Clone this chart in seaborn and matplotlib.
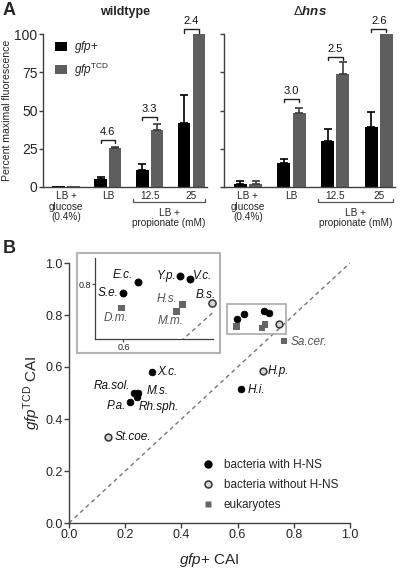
import numpy as np
import pandas as pd
import matplotlib
matplotlib.use("Agg")
import matplotlib.pyplot as plt
import seaborn as sns
from matplotlib.patches import Rectangle, Patch
from matplotlib.lines import Line2D

sns.set_theme(style="ticks")
plt.rcParams["font.family"] = ["Liberation Sans", "DejaVu Sans"]
plt.rcParams.update({
    "mathtext.fontset": "custom",
    "mathtext.rm": "Liberation Sans",
    "mathtext.it": "Liberation Sans:italic",
    "mathtext.bf": "Liberation Sans:bold",
    "mathtext.bfit": "Liberation Sans:italic:bold",
})

# ---------------- Panel A data ----------------
conditions = ["glucose", "LB", "12.5", "25"]
tick_labels = ["LB +\nglucose\n(0.4%)", "LB", "12.5", "25"]
constructs = ["gfp+", "gfpTCD"]

wt_gfp = [0.4, 5, 11, 42]
wt_gfp_err = [0, 1.5, 4, 18]
wt_tcd = [0.4, 25.5, 37.5, 100]
wt_tcd_err = [0, 0.7, 3.5, 0]

hns_gfp = [2, 16, 30, 39]
hns_gfp_err = [2, 2.5, 8, 10]
hns_tcd = [2, 48.5, 74, 100]
hns_tcd_err = [2, 3, 7.5, 0]

wt_ratio = ["4.6", "3.3", "2.4"]
wt_ratio_y = [31, 46, 103]
hns_ratio = ["3.0", "2.5", "2.6"]
hns_ratio_y = [57.5, 85, 103.5]

# ---------------- Panel B data ----------------
species = ["E.c.", "S.e.", "Y.p.", "V.c.", "B.s.", "D.m.", "H.s.", "M.m.",
           "X.c.", "Ra.sol.", "M.s.", "Rh.sph.", "P.a.", "St.coe.", "H.i.", "H.p.", "Sa.cer."]
gfp_cai = [0.624, 0.599, 0.694, 0.710, 0.747, 0.597, 0.697, 0.687,
           0.295, 0.231, 0.246, 0.242, 0.217, 0.139, 0.612, 0.690, 0.765]
tcd_cai = [0.804, 0.783, 0.815, 0.809, 0.765, 0.756, 0.763, 0.750,
           0.581, 0.500, 0.500, 0.485, 0.465, 0.331, 0.515, 0.585, 0.700]
group = ["with", "with", "with", "with", "without", "euk", "euk", "euk",
         "with", "with", "with", "with", "with", "without", "with", "without", "euk"]
inset_species = ["E.c.", "S.e.", "Y.p.", "V.c.", "B.s.", "D.m.", "H.s.", "M.m."]
group_labels = {"with": "bacteria with H-NS", "without": "bacteria without H-NS", "euk": "eukaryotes"}

BLACK = "#000000"
GREY = "#5e5e5e"
SPINE = "#404040"

fig = plt.figure(figsize=(4, 5.7), dpi=100)
W, H = 400, 570


def fig_rect(x0, x1, ytop, ybot):
    return [x0 / W, 1 - ybot / H, (x1 - x0) / W, (ybot - ytop) / H]


axL = fig.add_axes(fig_rect(43, 207, 34, 187))
axR = fig.add_axes(fig_rect(224, 395, 34, 187))


def bar_panel(ax, gfp, gfp_err, tcd, tcd_err, ratios, ratio_y, show_labels):
    df = pd.DataFrame({
        "condition": conditions * 2,
        "value": gfp + tcd,
        "construct": [constructs[0]] * 4 + [constructs[1]] * 4,
    })
    sns.barplot(data=df, x="condition", y="value", hue="construct",
                order=conditions, hue_order=constructs,
                palette={constructs[0]: BLACK, constructs[1]: GREY},
                width=0.7, gap=0.15, errorbar=None, saturation=1,
                legend=False, ax=ax, linewidth=0)
    centers = []
    for cont, vals, errs, ec in zip(ax.containers, [gfp, tcd], [gfp_err, tcd_err], [BLACK, "#3c3c3c"]):
        xs = [b.get_x() + b.get_width() / 2 for b in cont]
        centers.append(xs)
        for x, v, e in zip(xs, vals, errs):
            if e > 0:
                ax.errorbar([x], [v], yerr=[[0], [e]], fmt="none", ecolor=ec,
                            elinewidth=1.2, capsize=3, capthick=1.2, clip_on=False)
    # ratio brackets
    for i, (txt, yb) in enumerate(zip(ratios, ratio_y)):
        x0 = centers[0][i + 1]
        x1 = centers[1][i + 1]
        ax.plot([x0, x0, x1, x1], [yb - 2.2, yb, yb, yb - 2.2], color="#222222",
                lw=1.0, clip_on=False)
        ax.text((x0 + x1) / 2, yb + 2.0, txt, ha="center", va="bottom",
                fontsize=8, color="#111111")
    ax.set_xlim(-0.55, 3.37)
    ax.set_ylim(0, 100)
    ax.set_yticks([0, 25, 50, 75, 100])
    ax.set_xticks(range(4))
    ax.set_xticklabels(tick_labels, fontsize=7.2, linespacing=1.05)
    ax.tick_params(axis="x", length=0, pad=3)
    ax.tick_params(axis="y", length=3, width=1, color=SPINE, labelsize=10, pad=1)
    if not show_labels:
        ax.set_yticklabels([])
    ax.set_xlabel("")
    ax.set_ylabel("")
    sns.despine(ax=ax)
    for s in ["left", "bottom"]:
        ax.spines[s].set_color(SPINE)
        ax.spines[s].set_linewidth(1.0)
    # propionate bracket
    yb = -9.8
    ax.plot([1.6, 1.6, 3.33, 3.33], [-7.8, yb, yb, -7.8], color="#555555", lw=0.9, clip_on=False)
    ax.text((1.6 + 3.33) / 2, -13.5, "LB +\npropionate (mM)", ha="center", va="top",
            fontsize=7.2, linespacing=1.05)


bar_panel(axL, wt_gfp, wt_gfp_err, wt_tcd, wt_tcd_err, wt_ratio, wt_ratio_y, True)
bar_panel(axR, hns_gfp, hns_gfp_err, hns_tcd, hns_tcd_err, hns_ratio, hns_ratio_y, False)

axL.set_ylabel("Percent maximal fluorescence", fontsize=7.6, labelpad=2)
axL.set_title("wildtype", fontsize=9, fontweight="bold", pad=14)
axR.set_title(r"$\Delta\mathbfit{hns}$", fontsize=9.5, pad=14)

leg = axL.legend(handles=[Patch(facecolor=BLACK, edgecolor="none"), Patch(facecolor=GREY, edgecolor="none")],
                 labels=[r"$\mathit{gfp}$+", r"$\mathit{gfp}^{\mathrm{TCD}}$"],
                 loc="upper left", bbox_to_anchor=(0.075, 0.965), frameon=False,
                 fontsize=8.5, handlelength=1.0, handleheight=0.8, handletextpad=0.6,
                 borderaxespad=0, borderpad=0, labelspacing=0.45)

fig.text(3 / W, 1 - 2 / H, "A", fontsize=13, fontweight="bold", va="top", ha="left")
fig.text(3 / W, 1 - 240 / H, "B", fontsize=13, fontweight="bold", va="top", ha="left")

# ---------------- Panel B ----------------
dfB = pd.DataFrame({"species": species, "x": gfp_cai, "y": tcd_cai, "group": group})
styles = {
    "with": dict(marker="o", color=BLACK, edgecolor=BLACK, s=24, linewidth=0.5),
    "without": dict(marker="o", color="#d4d4d4", edgecolor="#333333", s=24, linewidth=1.1),
    "euk": dict(marker="s", color="#666666", edgecolor="none", s=22, linewidth=0),
}

axB = fig.add_axes(fig_rect(69, 350, 263, 523))
axB.plot([0, 1], [0, 1], ls=(0, (3, 2.5)), color="#777777", lw=1.0, zorder=1)
for g in ["with", "without", "euk"]:
    sub = dfB[dfB.group == g]
    sns.scatterplot(data=sub, x="x", y="y", ax=axB, zorder=3, legend=False, **styles[g])

main_label_offsets = {
    "X.c.": (4, 0, "left"), "Ra.sol.": (-3, 5, "right"), "M.s.": (6, 1.5, "left"),
    "Rh.sph.": (1, -7.5, "left"), "P.a.": (-3, -3, "right"), "St.coe.": (4.5, 0, "left"),
    "H.i.": (4.5, -1, "left"), "H.p.": (3.5, 0, "left"), "Sa.cer.": (5, -0.5, "left"),
}
for sp, x, y, g in zip(species, gfp_cai, tcd_cai, group):
    if sp in main_label_offsets:
        dx, dy, ha = main_label_offsets[sp]
        axB.annotate(sp, (x, y), xytext=(dx, dy), textcoords="offset points", ha=ha,
                     va="center", fontsize=8.5, style="italic",
                     color="#555555" if g == "euk" else "#111111")

# small box marking the zoomed region
axB.add_patch(Rectangle((0.562, 0.727), 0.772 - 0.562, 0.842 - 0.727, fill=False,
                        edgecolor="#aaaaaa", lw=1.2, zorder=2))

axB.set_xlim(0, 1)
axB.set_ylim(0, 1)
axB.set_xticks(np.arange(0, 1.01, 0.2))
axB.set_yticks(np.arange(0, 1.01, 0.2))
axB.xaxis.set_major_formatter(matplotlib.ticker.FormatStrFormatter("%.1f"))
axB.yaxis.set_major_formatter(matplotlib.ticker.FormatStrFormatter("%.1f"))
axB.tick_params(length=3.5, width=1, color=SPINE, labelsize=9, pad=1)
axB.set_xlabel(r"$\mathit{gfp}$+ CAI", fontsize=11, labelpad=7)
axB.set_ylabel(r"$\mathit{gfp}^{\mathrm{TCD}}$ CAI", fontsize=11, labelpad=2)
sns.despine(ax=axB)
for s in ["left", "bottom"]:
    axB.spines[s].set_color(SPINE)
    axB.spines[s].set_linewidth(1.0)

handles = [Line2D([], [], ls="none", marker="o", markersize=5, markerfacecolor=BLACK, markeredgecolor=BLACK),
           Line2D([], [], ls="none", marker="o", markersize=5, markerfacecolor="#d4d4d4", markeredgecolor="#333333", markeredgewidth=1.1),
           Line2D([], [], ls="none", marker="s", markersize=4.6, markerfacecolor="#666666", markeredgecolor="none")]
axB.legend(handles=handles, labels=[group_labels[g] for g in ["with", "without", "euk"]],
           loc="upper left", bbox_to_anchor=(0.475, 0.245), frameon=False, fontsize=8.5,
           handlelength=1.0, handletextpad=0.8, borderaxespad=0, borderpad=0, labelspacing=0.65)

# ---------------- Inset ----------------
fig.add_artist(Rectangle((77 / W, 1 - 353 / H), 143 / W, 100 / H, transform=fig.transFigure,
                         fill=False, edgecolor="#b4b4b4", lw=1.5))
axI = fig.add_axes(fig_rect(95, 213, 258, 339))
axI.patch.set_alpha(0)
axI.plot([0, 1], [0, 1], ls=(0, (3, 2.5)), color="#777777", lw=1.0, zorder=1)
dfI = dfB[dfB.species.isin(inset_species)]
for g in ["with", "without", "euk"]:
    sub = dfI[dfI.group == g]
    st = dict(styles[g])
    st["s"] = st["s"] * 1.1
    sns.scatterplot(data=sub, x="x", y="y", ax=axI, zorder=3, legend=False, clip_on=False, **st)

inset_label_offsets = {
    "E.c.": (-3.5, 5, "right"), "S.e.": (-3, 0, "right"), "Y.p.": (-3, 0, "right"),
    "V.c.": (2.5, 2.5, "left"), "D.m.": (-4, -7, "center"), "H.s.": (-3.5, 4, "right"),
    "M.m.": (-4, -7, "center"), "B.s.": (-4.5, 6, "center"),
}
for sp, x, y, g in zip(species, gfp_cai, tcd_cai, group):
    if sp in inset_label_offsets:
        dx, dy, ha = inset_label_offsets[sp]
        axI.annotate(sp, (x, y), xytext=(dx, dy), textcoords="offset points", ha=ha,
                     va="center", fontsize=8.5, style="italic",
                     color="#555555" if g == "euk" else "#111111", annotation_clip=False)

axI.set_xlim(0.553, 0.748)
axI.set_ylim(0.699, 0.848)
axI.set_xticks([0.6])
axI.set_yticks([0.8])
axI.set_xticklabels(["0.6"])
axI.set_yticklabels(["0.8"])
axI.tick_params(length=2, width=0.8, color=SPINE, labelsize=6.5, pad=1)
axI.set_xlabel("")
axI.set_ylabel("")
sns.despine(ax=axI)
for s in ["left", "bottom"]:
    axI.spines[s].set_color(SPINE)
    axI.spines[s].set_linewidth(0.9)

fig.savefig("out.png", dpi=100)
